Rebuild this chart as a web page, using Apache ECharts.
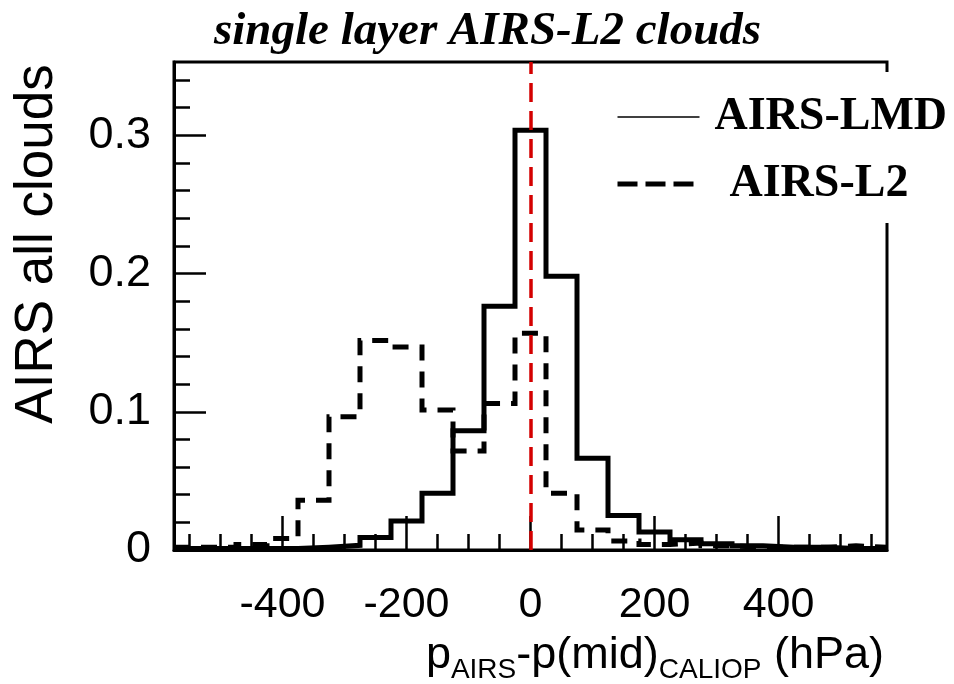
<!DOCTYPE html>
<html><head><meta charset="utf-8">
<script src="https://cdn.jsdelivr.net/npm/echarts@6/dist/echarts.min.js"></script>
<style>html,body{margin:0;padding:0;background:#fff}#c{width:954px;height:684px}</style>
</head><body><div id="c"></div>
<script>
// Histogram bins: 50 hPa wide, low edges from -575 to 525, upper edge 575
const binLowEdges = [-575,-525,-475,-425,-375,-325,-275,-225,-175,-125,-75,-25,25,75,125,175,225,275,325,375,425,475,525];
const binUpperEdge = 575;
const lmdValues = [0.001,0.001,0.001,0.001,0.002,0.0034,0.009,0.021,0.041,0.0863,0.1764,0.3037,0.198,0.0663,0.025,0.013,0.0075,0.0045,0.003,0.002,0.002,0.001,0.001];
const l2Values  = [0.002,0.002,0.004,0.0084,0.036,0.0964,0.1516,0.1468,0.1012,0.0716,0.106,0.1567,0.041,0.0145,0.0065,0.004,0.005,0.003,0.002,0.002,0.002,0.003,0.002];
const xMajorTicks = [-400,-200,0,200,400];
const xMinorTicks = [-550,-500,-450,-350,-300,-250,-150,-100,-50,50,100,150,250,300,350,450,500,550];
const yMajorTicks = [0,0.1,0.2,0.3];
const yMinorTicks = [0.02,0.04,0.06,0.08,0.12,0.14,0.16,0.18,0.22,0.24,0.26,0.28,0.32,0.34];
const referenceLineX = 0;

const sans = "'Liberation Sans',Arial,Helvetica,sans-serif";
const serif = "'Liberation Serif','Times New Roman',serif";

function toSteps(vals){
  const d = binLowEdges.map((e,i)=>[e, vals[i]]);
  d.push([binUpperEdge, vals[vals.length-1]]);
  return d;
}

const chart = echarts.init(document.getElementById('c'), null, {renderer:'canvas'});
chart.setOption({
  animation:false,
  backgroundColor:'#fff',
  title:{text:'single layer AIRS-L2 clouds', left:209, top:3,
    textStyle:{fontFamily:serif, fontStyle:'italic', fontWeight:'bold', fontSize:47, color:'#000'}},
  grid:{left:174, right:67, top:62, bottom:134, show:true, borderColor:'#000', borderWidth:3, backgroundColor:'transparent'},
  legend:{orient:'vertical', left:605, top:72, backgroundColor:'#fff', padding:[22,10,16,10],
    itemWidth:82, itemHeight:40, itemGap:21,
    textStyle:{fontFamily:serif, fontWeight:'bold', fontSize:46, color:'#000', padding:[0,0,0,10]},
    data:[
      {name:'AIRS-LMD', lineStyle:{width:1.5, type:'solid'}, itemStyle:{opacity:0}},
      {name:'AIRS-L2', lineStyle:{width:5, type:[20,8]}, itemStyle:{opacity:0},
       textStyle:{fontFamily:serif, fontWeight:'bold', fontSize:46, color:'#000', padding:[0,0,0,25]}}
    ]},
  xAxis:[
    {type:'value', min:-575, max:575, position:'bottom',
     axisLine:{show:true, onZero:false, lineStyle:{color:'#000', width:3}},
     axisTick:{show:true, inside:true, length:34, customValues:xMajorTicks, lineStyle:{color:'#000', width:2.5}},
     axisLabel:{show:true, customValues:xMajorTicks, fontFamily:sans, fontSize:43, color:'#000', margin:34},
     splitLine:{show:false},
     name:'{m|p}{s|AIRS}{m|-p(mid)}{s|CALIOP}{m| (hPa)}', nameLocation:'end', nameGap:-3,
     nameTextStyle:{align:'right', verticalAlign:'top', padding:[78,0,0,0],
       rich:{m:{fontFamily:sans, fontSize:45, color:'#000', lineHeight:56},
             s:{fontFamily:sans, fontSize:28, color:'#000', lineHeight:56, verticalAlign:'bottom', padding:[14,0,0,0]}}}},
    {type:'value', min:-575, max:575, position:'bottom',
     axisLine:{show:false, onZero:false},
     axisTick:{show:true, inside:true, length:16, customValues:xMinorTicks, lineStyle:{color:'#000', width:2.5}},
     axisLabel:{show:false}, splitLine:{show:false}}
  ],
  yAxis:[
    {type:'value', min:0, max:0.353, position:'left',
     axisLine:{show:true, onZero:false, lineStyle:{color:'#000', width:3}},
     axisTick:{show:true, inside:true, length:32, customValues:yMajorTicks, lineStyle:{color:'#000', width:2.5}},
     axisLabel:{show:true, customValues:yMajorTicks, fontFamily:sans, fontSize:45, color:'#000', margin:23},
     splitLine:{show:false},
     name:'AIRS all clouds', nameLocation:'middle', nameGap:110,
     nameTextStyle:{fontFamily:sans, fontSize:53, color:'#000', padding:[0,0,0,124]}},
    {type:'value', min:0, max:0.353, position:'left',
     axisLine:{show:false, onZero:false},
     axisTick:{show:true, inside:true, length:16, customValues:yMinorTicks, lineStyle:{color:'#000', width:2.5}},
     axisLabel:{show:false}, splitLine:{show:false}}
  ],
  series:[
    {name:'AIRS-LMD', type:'line', step:'end', symbol:'none', data:toSteps(lmdValues), z:3,
     lineStyle:{color:'#000', width:5, join:'miter'}, itemStyle:{color:'#000'}},
    {name:'AIRS-L2', type:'line', step:'end', symbol:'none', data:toSteps(l2Values), z:3,
     lineStyle:{color:'#000', width:5, type:[16,11], join:'miter'}, itemStyle:{color:'#000'}},
    {name:'ref', type:'line', data:[], z:5,
     markLine:{silent:true, symbol:['none','none'], label:{show:false},
       lineStyle:{color:'#d40000', width:3.5, type:[19,9]},
       data:[{xAxis:referenceLineX}]}}
  ]
});
</script></body></html>
